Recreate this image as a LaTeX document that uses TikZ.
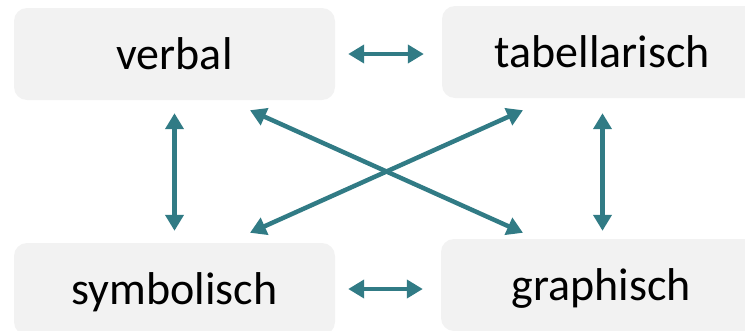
\documentclass[tikz,border=0pt]{standalone}
\usepackage{fontspec}
\setmainfont{Carlito}
\usetikzlibrary{arrows.meta}
\definecolor{boxfill}{HTML}{F2F2F2}
\definecolor{tealarrow}{HTML}{317B85}
\begin{document}
\begin{tikzpicture}[x=1pt,y=-1pt,
  repbox/.style={fill=boxfill, rounded corners=13pt, minimum width=321pt, minimum height=92pt,
    inner sep=0pt, text height=31pt, text depth=0pt, font=\fontsize{46}{50}\selectfont},
  arr/.style={draw=tealarrow, line width=4.5pt, {Triangle[length=16pt,width=18pt]}-{Triangle[length=16pt,width=18pt]}}]
\useasboundingbox (0,0) rectangle (745,330);
\clip (0,0) rectangle (745,330);
\node[repbox] (verbal) at (174.5,54) {verbal};
\node[repbox] (tab) at (602.5,52) {tabellarisch};
\node[repbox] (sym) at (174.5,289) {symbolisch};
\node[repbox] (graph) at (601.5,285) {graphisch};
% horizontal
\draw[arr, shorten <=13pt, shorten >=18pt] (verbal.east) -- (verbal.east -| tab.west);
\draw[arr, shorten <=13pt, shorten >=18pt] (sym.east) -- (sym.east -| graph.west);
% vertical
\draw[arr, shorten <=13pt, shorten >=12pt] (verbal.south) -- (verbal.south |- sym.north);
\draw[arr, shorten <=15pt, shorten >=8pt] (tab.south) -- (tab.south |- graph.north);
% diagonals
\draw[arr] ([shift={(75.5,10)}]verbal.south) -- ([shift={(-78.5,-6)}]graph.north);
\draw[arr] ([shift={(-79.5,12)}]tab.south) -- ([shift={(75.5,-10)}]sym.north);
\end{tikzpicture}
\end{document}
